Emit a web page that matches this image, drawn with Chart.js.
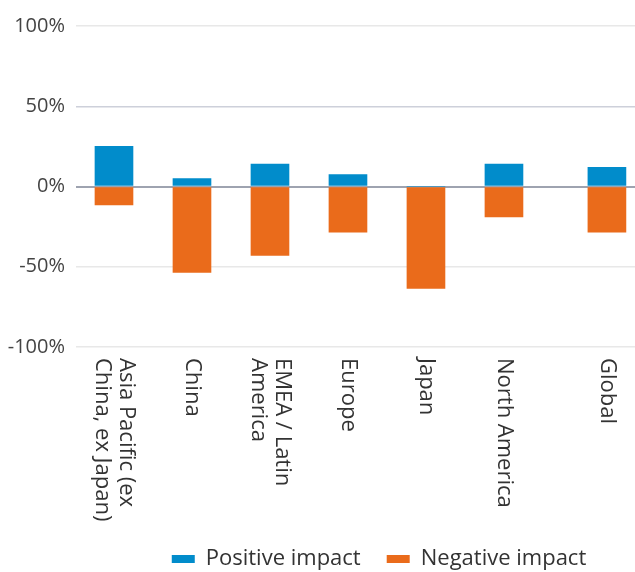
<!DOCTYPE html>
<html>
<head>
<meta charset="utf-8">
<script src="https://cdn.jsdelivr.net/npm/chart.js@4"></script>
<style>
  html, body { margin: 0; padding: 0; background: #fff; }
  #wrap { width: 635px; height: 572px; }
</style>
</head>
<body>
<div id="wrap"><canvas id="chart"></canvas></div>
<script>
// Chart data
const regions = [
  ['Asia Pacific (ex', 'China, ex Japan)'],
  'China',
  ['EMEA / Latin', 'America'],
  'Europe',
  'Japan',
  'North America',
  'Global'
];
const positiveImpact = [25, 5, 14, 7.5, 0, 14, 12];
const negativeImpact = [-11.5, -53.5, -43, -28.5, -63.5, -19, -28.5];
const seriesNames = ['Positive impact', 'Negative impact'];
const yTicks = [-100, -50, 0, 50, 100];

// Global sits a little further out than the other regions
const slotOf = i => (i === regions.length - 1 ? i + 0.32 : i);
const fontFamily = '"Open Sans", sans-serif';

// Region names are written top-to-bottom under each bar
const regionLabels = {
  id: 'regionLabels',
  afterDraw(chart) {
    const ctx = chart.ctx;
    const xScale = chart.scales.x;
    const top = chart.chartArea.bottom + 11;
    ctx.save();
    ctx.font = '22px ' + fontFamily;
    ctx.fillStyle = '#333';
    ctx.textAlign = 'left';
    ctx.textBaseline = 'middle';
    regions.forEach((name, i) => {
      const lines = [].concat(name);
      ctx.save();
      ctx.translate(xScale.getPixelForValue(slotOf(i)), top);
      ctx.rotate(Math.PI / 2);
      lines.forEach((line, j) => {
        ctx.fillText(line, 0, (j - (lines.length - 1) / 2) * 24);
      });
      ctx.restore();
    });
    ctx.restore();
  }
};

// nudge the legend right and down, like the original
const legendShift = {
  id: 'legendShift',
  afterLayout(chart) {
    chart.legend.left = 123;
    chart.legend.top += 8;
    chart.legend.bottom += 8;
  }
};

let chart = new Chart(document.getElementById('chart'), {
  type: 'bar',
  data: {
    datasets: [{
      label: seriesNames[0],
      data: positiveImpact.map((v, i) => ({ x: slotOf(i), y: v })),
      backgroundColor: '#018ccb'
    }, {
      label: seriesNames[1],
      data: negativeImpact.map((v, i) => ({ x: slotOf(i), y: v })),
      backgroundColor: '#ea6b1b'
    }]
  },
  options: {
    responsive: true,
    maintainAspectRatio: false,
    animation: false,
    barThickness: 38,
    layout: { padding: { top: 26, right: 0, left: 0, bottom: 0 } },
    plugins: {
      tooltip: { enabled: false },
      legend: {
        position: 'bottom',
        labels: {
          boxWidth: 23,
          boxHeight: 8,
          padding: 26,
          color: '#333',
          font: { family: fontFamily, size: 22 }
        }
      }
    },
    scales: {
      x: {
        type: 'linear',
        stacked: true,
        offset: false,
        min: -0.487,
        max: 6.68,
        grid: { display: false },
        border: { display: false },
        ticks: { display: false },
        afterFit(scale) { scale.height = 167; }
      },
      y: {
        stacked: true,
        min: -100,
        max: 100,
        afterBuildTicks(scale) { scale.ticks = yTicks.map(v => ({ value: v })); },
        afterFit(scale) { scale.width = 76; },
        border: { display: false },
        grid: {
          drawTicks: false,
          color: ctx => ctx.tick.value === 0 ? '#9ea3b0' : (ctx.tick.value === 50 ? '#cdd0da' : '#e8e8e8'),
          lineWidth: ctx => ctx.tick.value === 0 ? 2 : 1.5
        },
        ticks: {
          padding: 11,
          color: '#444',
          font: { family: fontFamily, size: 20 },
          callback: v => v + '%'
        }
      }
    }
  },
  plugins: [regionLabels, legendShift]
});
</script>
</body>
</html>
